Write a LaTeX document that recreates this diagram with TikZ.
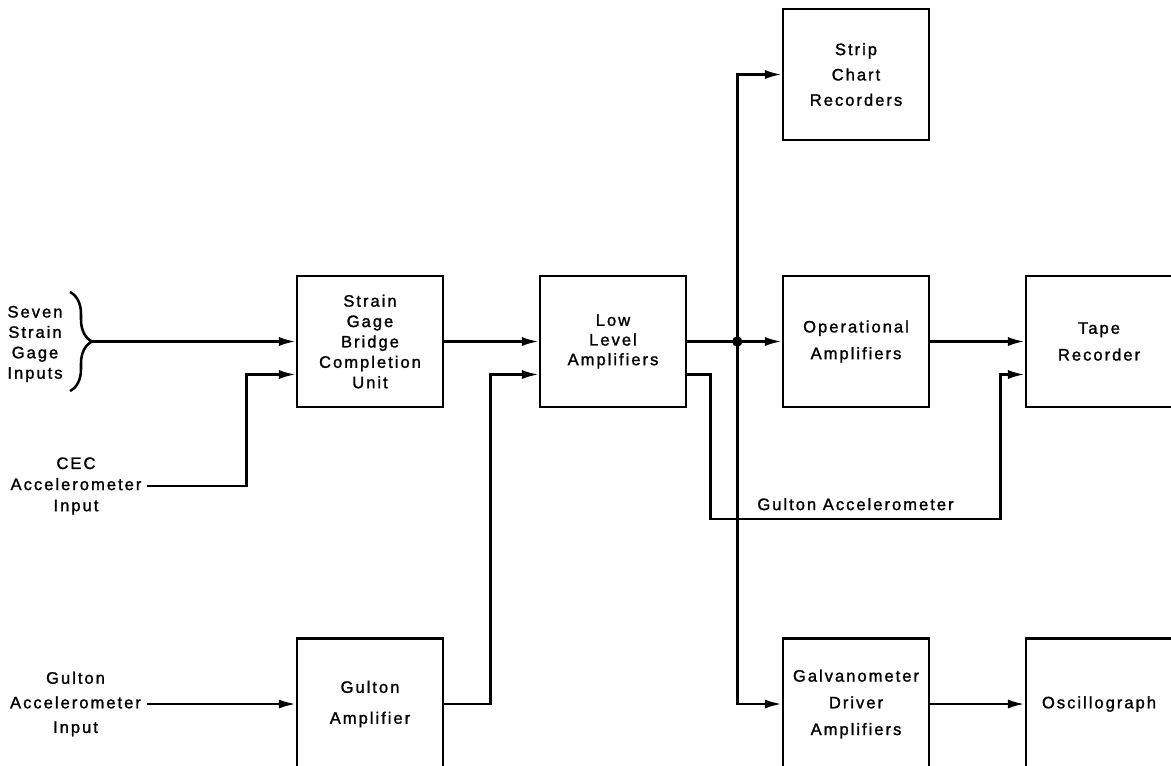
\documentclass[tikz,border=0pt]{standalone}
\usepackage{fontspec}
\newfontfamily\lettering[LetterSpace=12,FakeBold=1.4]{Liberation Sans}
\usetikzlibrary{arrows.meta,decorations.pathreplacing}

\begin{document}
\begin{tikzpicture}[line width=1.8pt,
    txt/.style={font=\lettering\fontsize{11.8pt}{#1}\selectfont,align=center},
    block/.style={draw=black,minimum width=3.65cm,minimum height=3.275cm},
    >={Latex[length=12pt,width=6.5pt]},
    node distance=6.075cm]
    \useasboundingbox (0,0) rectangle (29.275,-19.125);

    % main row
    \node[block,txt=14.5pt,name=strain] at (9.25,-8.5375) {Strain\\Gage\\Bridge\\Completion\\Unit};
    \node[block,txt=14pt,name=low, right of=strain] {Low\\Level\\Amplifiers};
    \node[block,txt=19pt,name=oper, right of=low] {Operational\\Amplifiers};
    \node[block,txt=19pt,name=tape, right of=oper] {Tape\\Recorder};

    \node[block,txt=18pt,name=strip, above of=oper, node distance=6.675cm] {Strip\\Chart\\Recorders};

    % bottom row
    \node[block,txt=22pt,name=gamp, below of=strain, node distance=9.0625cm] {Gulton\\Amplifier};
    \node[block,txt=19pt,name=galv, below of=oper, node distance=9.0625cm] {Galvanometer\\Driver\\Amplifiers};
    \node[block,txt=19pt,name=osc, right of=galv] {Oscillograph};

    % inputs
    \node[txt=14.5pt,name=seven] at (0.875,-8.6) {Seven\\Strain\\Gage\\Inputs};
    \node[txt=15pt,name=cec] at (1.9,-12.15) {CEC\\Accelerometer\\Input};
    \node[txt=17.5pt,name=gin, left of=gamp, node distance=7.3625cm] {Gulton\\Accelerometer\\Input};

    \draw[decorate,decoration={brace,amplitude=0.55cm}] (1.75,-7.3) -- (1.75,-9.775);
    \coordinate (tip) at (2.3,-8.5375);
    \coordinate (jn) at ([xshift=1.25cm]low.east);

    \draw[->] (tip) -- (strain);
    \draw[->] (cec.east) -| ([xshift=-1.225cm,yshift=-0.825cm]strain.west) -- ([yshift=-0.825cm]strain.west);
    \draw[->] (gin.east) -- (gamp.west);
    \draw[->] (strain) -- (low);
    \draw[->] (gamp.east) -| ([xshift=-1.2cm,yshift=-0.825cm]low.west) -- ([yshift=-0.825cm]low.west);
    \draw[->] (low) -- (oper);
    \draw[->] (jn) |- (strip);
    \draw[->] (jn) |- (galv);
    \fill (jn) circle (0.13cm);
    \draw[->] (oper) -- (tape);
    \draw[->] (galv) -- (osc);
    \draw[->] ([yshift=-0.825cm]low.east) -| ++(0.575cm,-3.6125cm)
        -| node[pos=0.25,above=2pt,txt=14pt] {Gulton Accelerometer} ([xshift=-0.6cm,yshift=-0.825cm]tape.west)
        -- ([yshift=-0.825cm]tape.west);
\end{tikzpicture}
\end{document}
